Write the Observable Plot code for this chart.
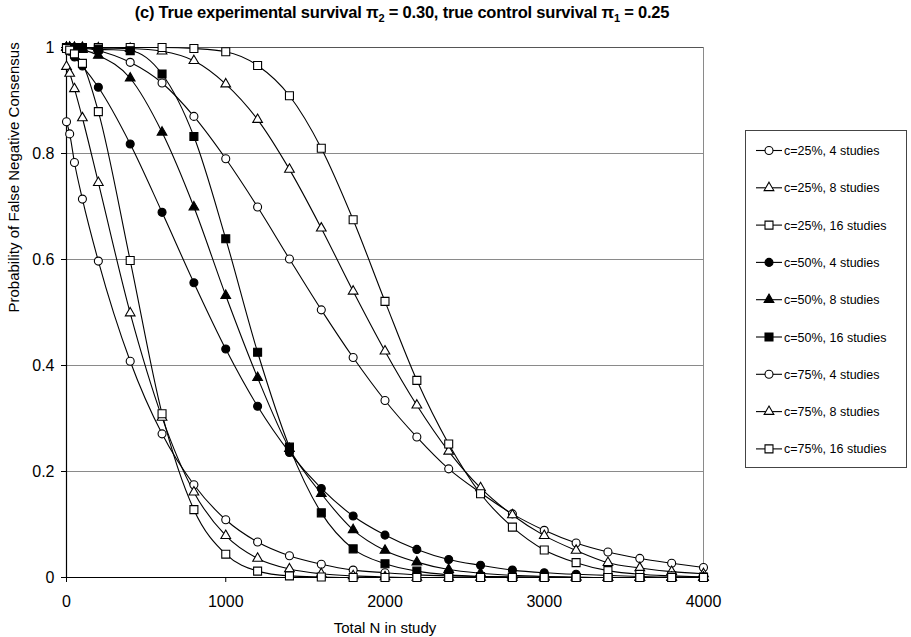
<!DOCTYPE html>
<html><head><meta charset="utf-8">
<script src="https://cdn.jsdelivr.net/npm/d3@7"></script>
<script src="https://cdn.jsdelivr.net/npm/@observablehq/plot@0.6"></script>
<style>
body{margin:0;background:#fff;font-family:"Liberation Sans",Arial,sans-serif;}
#wrap{position:relative;width:911px;height:637px;overflow:hidden;background:#fff;}
#chart{position:absolute;left:0;top:0;}
#title{position:absolute;left:0;top:3px;width:804px;text-align:center;font-weight:bold;font-size:16.5px;color:#000;letter-spacing:-0.2px;}
#legend{position:absolute;left:745px;top:130px;}
</style></head><body>
<div id="wrap"><div id="chart"></div>
<div id="title">(c) True experimental survival &pi;<sub style="font-size:11px">2</sub> = 0.30, true control survival &pi;<sub style="font-size:11px">1</sub> = 0.25</div>
<div id="legend"></div></div>
<script>
const totalN = [0,20,50,100,200,400,600,800,1000,1200,1400,1600,1800,2000,2200,2400,2600,2800,3000,3200,3400,3600,3800,4000];
const c25_4  = [1.000,1.000,1.000,0.999,0.994,0.972,0.933,0.870,0.790,0.699,0.601,0.505,0.415,0.334,0.265,0.205,0.160,0.120,0.089,0.065,0.048,0.036,0.027,0.019];
const c25_8  = [1.000,1.000,1.000,1.000,0.999,0.998,0.993,0.975,0.931,0.864,0.770,0.659,0.540,0.427,0.325,0.238,0.169,0.118,0.079,0.051,0.028,0.018,0.011,0.007];
const c25_16 = [1.000,1.000,1.000,1.000,1.000,1.000,1.000,0.998,0.992,0.966,0.909,0.810,0.675,0.521,0.372,0.252,0.158,0.095,0.052,0.028,0.013,0.006,0.003,0.001];
const c50_4  = [0.997,0.993,0.982,0.965,0.925,0.818,0.689,0.556,0.431,0.323,0.236,0.168,0.116,0.080,0.053,0.034,0.023,0.014,0.009,0.006,0.004,0.002,0.001,0.001];
const c50_8  = [1.000,1.000,0.999,0.996,0.985,0.942,0.840,0.699,0.532,0.377,0.243,0.158,0.090,0.051,0.029,0.015,0.008,0.004,0.002,0.001,0.000,0.000,0.000,0.000];
const c50_16 = [1.000,1.000,1.000,1.000,0.997,0.994,0.950,0.832,0.639,0.425,0.246,0.122,0.054,0.026,0.012,0.005,0.002,0.001,0.000,0.000,0.000,0.000,0.000,0.000];
const c75_4  = [0.860,0.837,0.783,0.714,0.597,0.408,0.271,0.175,0.109,0.067,0.041,0.025,0.014,0.009,0.005,0.003,0.002,0.001,0.001,0.000,0.000,0.000,0.000,0.000];
const c75_8  = [0.964,0.951,0.922,0.867,0.745,0.499,0.302,0.161,0.079,0.036,0.016,0.007,0.003,0.001,0.000,0.000,0.000,0.000,0.000,0.000,0.000,0.000,0.000,0.000];
const c75_16 = [0.998,0.995,0.988,0.970,0.879,0.598,0.309,0.128,0.044,0.012,0.003,0.001,0.000,0.000,0.000,0.000,0.000,0.000,0.000,0.000,0.000,0.000,0.000,0.000];

const seriesNames = ["c=25%, 4 studies","c=25%, 8 studies","c=25%, 16 studies","c=50%, 4 studies","c=50%, 8 studies","c=50%, 16 studies","c=75%, 4 studies","c=75%, 8 studies","c=75%, 16 studies"];
const seriesValues = [c25_4,c25_8,c25_16,c50_4,c50_8,c50_16,c75_4,c75_8,c75_16];
const seriesShapes = ["circle","triangle","square","circle","triangle","square","circle","triangle","square"];
const seriesFills = ["white","white","white","black","black","black","white","white","white"];
const xTicks = [0,1000,2000,3000,4000];
const yTicks = [0,0.2,0.4,0.6,0.8,1];

const data = [];
seriesNames.forEach((name,i)=>{
  seriesValues[i].forEach((p,j)=>data.push({series:name,n:totalN[j],p,shape:seriesShapes[i],fill:seriesFills[i]}));
});

const symR = {circle:4, square:4.5, triangle:3.6};
const dotMark = shape => Plot.dot(data.filter(d=>d.shape===shape), {x:"n", y:"p", symbol: shape, r: symR[shape], fill: d=>d.fill, stroke:"black", strokeWidth:1.1});

const chart = Plot.plot({
  width: 911, height: 637,
  marginLeft: 66, marginRight: 208, marginTop: 47, marginBottom: 60,
  x: {domain:[0,4000]},
  y: {domain:[0,1]},
  style: {fontFamily:"Liberation Sans, Arial, sans-serif", fontSize:"16px", background:"white", color:"black", overflow:"visible"},
  marks: [
    Plot.ruleY(yTicks.filter(v=>v>0 && v<1), {stroke:"#8a8a8a", strokeWidth:1}),
    Plot.ruleY([1], {stroke:"#555", strokeWidth:1}),
    Plot.ruleX([4000], {stroke:"#8a8a8a", strokeWidth:1}),
    Plot.axisX({ticks:xTicks, tickFormat:d=>String(d), tickSize:5, tickPadding:13, label:null, fontSize:16}),
    Plot.axisY({ticks:yTicks, tickFormat:d=>String(d), tickSize:5, tickPadding:7, label:null, fontSize:16}),
    Plot.ruleX([0], {stroke:"black", strokeWidth:1.2}),
    Plot.ruleY([0], {stroke:"black", strokeWidth:1.2}),
    Plot.text(["Probability of False Negative Consensus"], {frameAnchor:"left", rotate:-90, dx:-52, fontSize:15, text:d=>d}),
    Plot.text(["Total N in study"], {frameAnchor:"bottom", dy:55, fontSize:15, text:d=>d}),
    Plot.line(data, {x:"n", y:"p", z:"series", curve:"monotone-x", stroke:"black", strokeWidth:1.1}),
    dotMark("circle"), dotMark("triangle"), dotMark("square")
  ]
});
document.getElementById("chart").appendChild(chart);

// Legend
const lw = 162, lh = 338;
const lsvg = d3.select("#legend").append("svg").attr("width", lw).attr("height", lh)
  .style("font-family","Liberation Sans, Arial, sans-serif");
lsvg.append("rect").attr("x",0.5).attr("y",0.5).attr("width",lw-1).attr("height",lh-1).attr("fill","white").attr("stroke","#444");
const symType = {circle:d3.symbolCircle, triangle:d3.symbolTriangle, square:d3.symbolSquare};
seriesNames.forEach((name,i)=>{
  const g = lsvg.append("g").attr("transform",`translate(0,${20.5 + i*37.3})`);
  g.append("line").attr("x1",11).attr("x2",37).attr("stroke","black").attr("stroke-width",1.1);
  const r = symR[seriesShapes[i]];
  g.append("path").attr("transform","translate(24,0)").attr("d", d3.symbol(symType[seriesShapes[i]], Math.PI*r*r)())
    .attr("fill", seriesFills[i]).attr("stroke","black").attr("stroke-width",1.1);
  g.append("text").attr("x",39).attr("y",4.5).attr("font-size",12.5).text(name);
});
</script>
</body></html>
